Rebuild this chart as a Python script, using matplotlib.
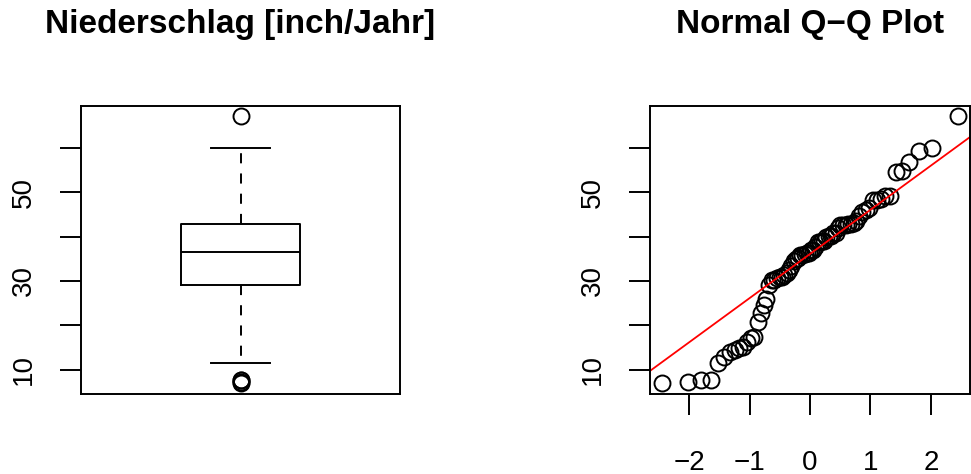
import numpy as np
import matplotlib
matplotlib.use("Agg")
import matplotlib.pyplot as plt
from statistics import NormalDist

# R dataset 'precip' (annual precipitation, inch/year, 70 US cities)
cities = ["Mobile", "Juneau", "Phoenix", "Little Rock", "Los Angeles", "Sacramento",
          "San Francisco", "Denver", "Hartford", "Wilmington", "Washington", "Jacksonville",
          "Miami", "Atlanta", "Honolulu", "Boise", "Chicago", "Peoria", "Indianapolis",
          "Des Moines", "Wichita", "Louisville", "New Orleans", "Portland", "Baltimore",
          "Boston", "Detroit", "Sault Ste. Marie", "Duluth", "Minneapolis/St Paul",
          "Jackson", "Kansas City", "St Louis", "Great Falls", "Omaha", "Reno", "Concord",
          "Atlantic City", "Albuquerque", "Albany", "Buffalo", "New York", "Charlotte",
          "Raleigh", "Bismark", "Cincinnati", "Cleveland", "Columbus", "Oklahoma City",
          "Portland OR", "Philadelphia", "Pittsburg", "Providence", "Columbia", "Sioux Falls",
          "Memphis", "Nashville", "Dallas", "El Paso", "Houston", "Salt Lake City",
          "Burlington", "Norfolk", "Richmond", "Seattle Tacoma", "Spokane", "Charleston",
          "Milwaukee", "Cheyenne", "San Juan"]
precip = [67.0, 54.7, 7.0, 48.5, 14.0, 17.2, 20.7, 13.0, 43.4, 40.2, 38.9, 54.5,
          59.8, 48.3, 22.9, 11.5, 34.4, 35.1, 38.7, 30.8, 30.6, 43.1, 56.8, 40.8,
          41.8, 42.5, 31.0, 31.7, 30.2, 25.9, 49.2, 37.0, 35.9, 15.0, 30.2, 7.2,
          36.2, 45.5, 7.8, 33.4, 36.1, 40.2, 42.7, 42.5, 16.2, 39.0, 35.0, 37.0,
          31.4, 37.6, 39.9, 36.2, 42.8, 46.4, 24.7, 49.1, 46.0, 35.9, 7.8, 48.2,
          15.2, 32.5, 44.7, 42.6, 38.8, 17.4, 40.8, 29.1, 14.6, 59.2]

title_left = "Niederschlag [inch/Jahr]"
title_right = "Normal Q\u2212Q Plot"
yticks = [10, 20, 30, 40, 50, 60]
ytick_labels = ["10", "", "30", "", "50", ""]
xticks = [-2, -1, 0, 1, 2]
xtick_labels = ["\u22122", "\u22121", "0", "1", "2"]

plt.rcParams["font.family"] = ["Liberation Sans", "DejaVu Sans"]

y = np.array(precip)
ys = np.sort(y)
n = len(ys)

# R fivenum (Tukey hinges)
n4 = np.floor((n + 3) / 2) / 2
d = np.array([1, n4, (n + 1) / 2, n + 1 - n4, n]) - 1
fiv = 0.5 * (ys[np.floor(d).astype(int)] + ys[np.ceil(d).astype(int)])
iqr = fiv[3] - fiv[1]
lo_lim = fiv[1] - 1.5 * iqr
hi_lim = fiv[3] + 1.5 * iqr
whislo = ys[ys >= lo_lim].min()
whishi = ys[ys <= hi_lim].max()
fliers = ys[(ys < lo_lim) | (ys > hi_lim)]

# normal quantiles (ppoints)
nd = NormalDist()
a = 3 / 8 if n <= 10 else 0.5
pp = (np.arange(1, n + 1) - a) / (n + 1 - 2 * a)
theo = np.array([nd.inv_cdf(p) for p in pp])

q1, q3 = np.percentile(y, [25, 75])
z1, z3 = nd.inv_cdf(0.25), nd.inv_cdf(0.75)
slope = (q3 - q1) / (z3 - z1)
intercept = q1 - slope * z1

W, H = 971, 474
fig = plt.figure(figsize=(W / 100, H / 100), dpi=100)
lw = 1.4
ms = 11.5

def setup(ax):
    for s in ax.spines.values():
        s.set_linewidth(lw)
    ax.set_yticks(yticks)
    ax.set_yticklabels(ytick_labels, rotation=90, va="center")
    ax.tick_params(axis="y", length=15, width=lw, labelsize=20, pad=17)
    ax.set_ylim(ys.min() - 0.04 * (ys.max() - ys.min()), ys.max() + 0.04 * (ys.max() - ys.min()))

# left: boxplot
ax1 = fig.add_axes([81 / W, 1 - 394 / H, 319 / W, 288.3 / H])
stats = [dict(med=fiv[2], q1=fiv[1], q3=fiv[3], whislo=whislo, whishi=whishi, fliers=fliers)]
ax1.bxp(stats, positions=[1], widths=0.4,
        boxprops=dict(color="black", linewidth=lw),
        medianprops=dict(color="black", linewidth=lw),
        whiskerprops=dict(color="black", linewidth=lw, linestyle=(0, (5.2, 5.2))),
        capprops=dict(color="black", linewidth=lw),
        capwidths=0.2,
        flierprops=dict(marker="o", markerfacecolor="none", markeredgecolor="black",
                        markersize=ms, markeredgewidth=lw))
ax1.set_xlim(0.46, 1.54)
ax1.set_xticks([])
setup(ax1)

# right: QQ plot
ax2 = fig.add_axes([650 / W, 1 - 394 / H, 320 / W, 288.3 / H])
ax2.plot(theo, ys, linestyle="none", marker="o", markerfacecolor="none",
         markeredgecolor="black", markersize=ms, markeredgewidth=lw)
xr = theo.max() - theo.min()
ax2.set_xlim(theo.min() - 0.04 * xr, theo.max() + 0.04 * xr)
ax2.axline((0, intercept), slope=slope, color="#FF0000", linewidth=1.3)
ax2.set_xticks(xticks)
ax2.set_xticklabels(xtick_labels)
ax2.tick_params(axis="x", length=15, width=lw, labelsize=20, pad=25)
setup(ax2)

fig.text(240.5 / W, 1 - 33 / H, title_left, ha="center", va="baseline",
         fontsize=24, fontweight="bold")
fig.text(810 / W, 1 - 33 / H, title_right, ha="center", va="baseline",
         fontsize=24, fontweight="bold")

fig.savefig("out.png", dpi=100)
